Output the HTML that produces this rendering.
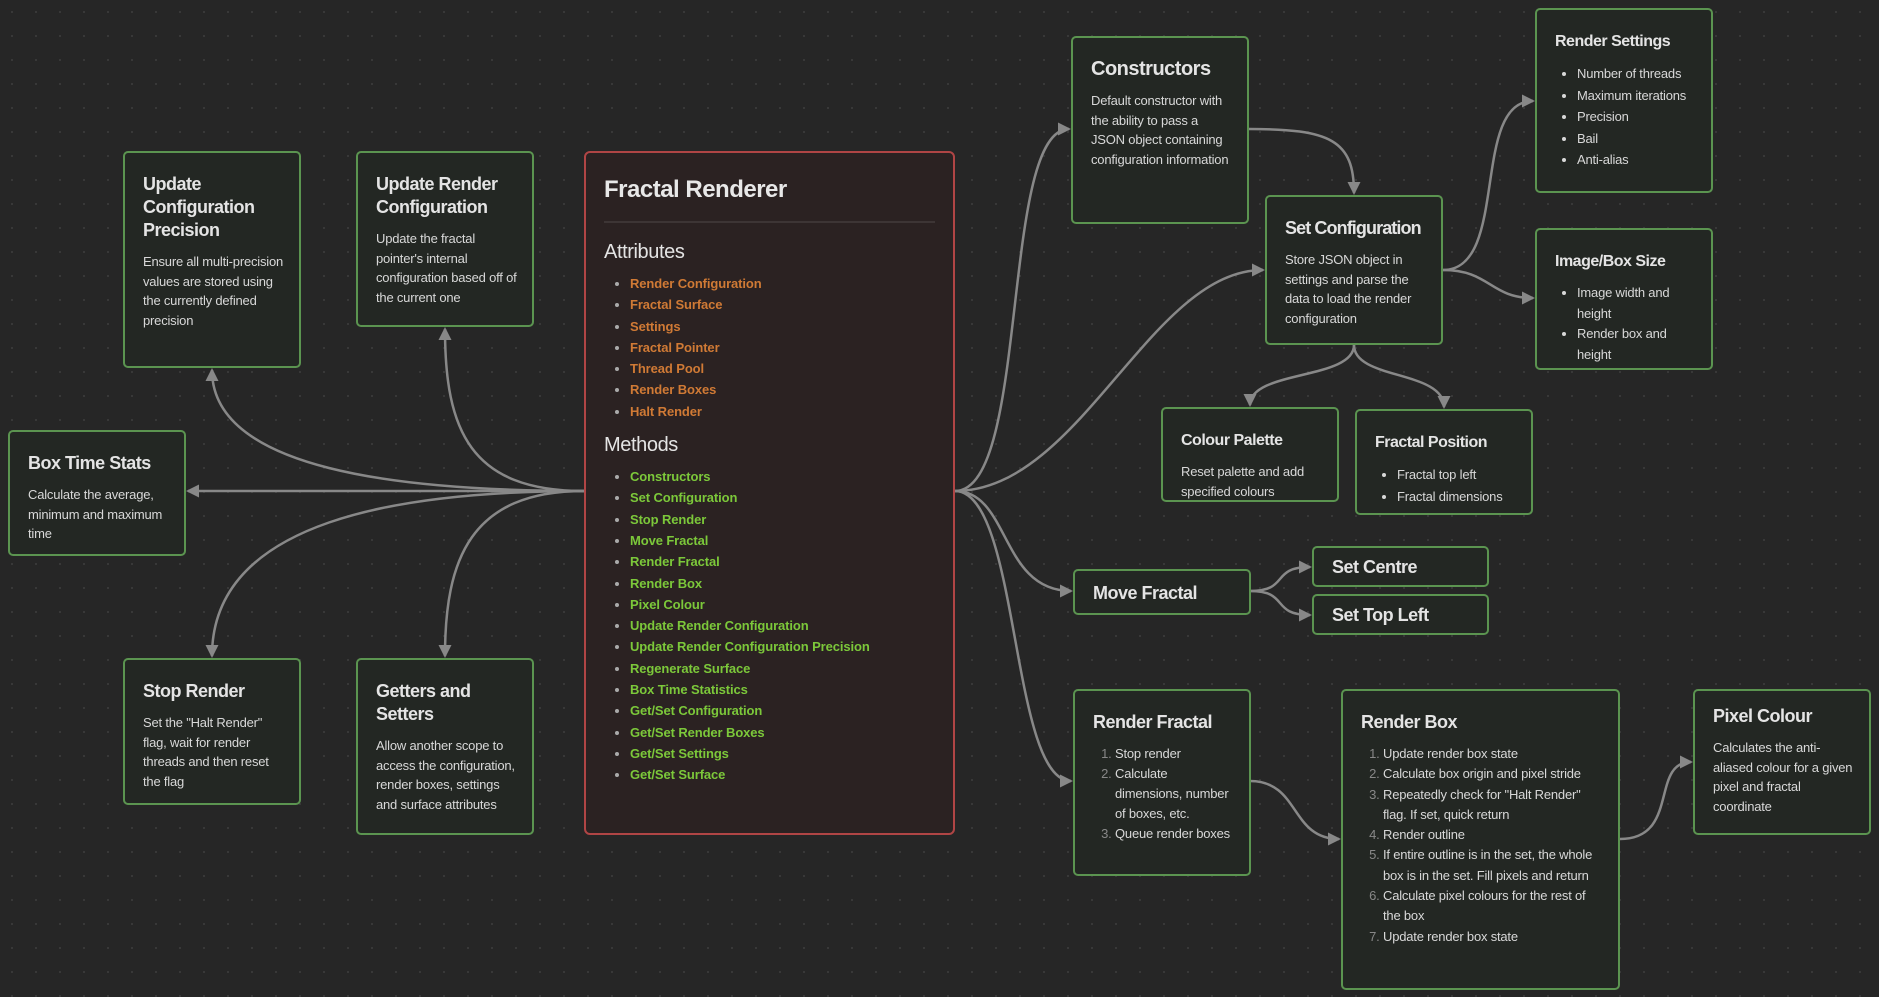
<!DOCTYPE html>
<html><head><meta charset="utf-8">
<style>
*{margin:0;padding:0;box-sizing:border-box}
body{width:1879px;height:997px;overflow:hidden;background:#262626;
background-image:radial-gradient(#3a3a3a 1px,transparent 1.2px);background-size:24px 24px;
font-family:"Liberation Sans","DejaVu Sans",sans-serif;color:#dcdcdc;position:relative}
.n{position:absolute;background:#232723;border:2px solid #5b9450;border-radius:5px;padding:20px 14px 0 18px}
.n h3{font-size:18px;font-weight:bold;color:#e4e4e4;line-height:23px;margin-bottom:10px;letter-spacing:-0.5px}
.n p{font-size:13px;line-height:19.5px;color:#d8d8d8;letter-spacing:-0.2px}
.n ul,.n ol{font-size:13px;line-height:21.5px;color:#d8d8d8;padding-left:22px;letter-spacing:-0.2px}
.n ol li::marker{color:#888}
.m{position:absolute;left:584px;top:151px;width:371px;height:684px;background:#2b2222;border:2px solid #b04545;border-radius:6px;padding:18px 18px}
.m h1{font-size:24px;font-weight:bold;color:#e8e8e8;line-height:32px;margin-top:3px;letter-spacing:-0.5px}
.m hr{border:none;border-top:2px solid #3d3535;margin:15px 0 16px}
.m h2{font-size:20px;font-weight:normal;color:#e4e4e4;line-height:26px;margin-bottom:8px;letter-spacing:-0.4px}
.m ul{padding-left:26px;font-size:13px;font-weight:bold;line-height:21.3px;color:#aaa;letter-spacing:-0.1px}
.a li span{color:#d07a35}.g li span{color:#7cc83a}
svg{position:absolute;left:0;top:0}
</style></head><body>
<svg width="1879" height="997">
<defs><marker id="ar" markerWidth="13" markerHeight="13" refX="11" refY="6.5" orient="auto" markerUnits="userSpaceOnUse"><path d="M0,0 L13,6.5 L0,13 z" fill="#888"/></marker></defs>
<g fill="none" stroke="#888" stroke-width="2.5" marker-end="url(#ar)">
<path d="M584,491 C400,491 212,470 212,370"/>
<path d="M584,491 C470,491 445,430 445,329"/>
<path d="M584,491 L188,491"/>
<path d="M584,491 C400,491 212,520 212,656"/>
<path d="M584,491 C470,491 445,560 445,656"/>
<path d="M955,491 C1030,491 1000,129 1069,129"/>
<path d="M955,491 C1080,491 1150,270 1263,270"/>
<path d="M955,491 C1010,491 1000,591 1071,591"/>
<path d="M955,491 C1020,491 1010,781 1071,781"/>
<path d="M1249,129 C1330,129 1354,140 1354,193"/>
<path d="M1443,270 C1510,270 1470,101 1533,101"/>
<path d="M1443,270 C1490,270 1490,298 1533,298"/>
<path d="M1354,345 C1354,380 1250,370 1250,405"/>
<path d="M1354,345 C1354,380 1444,370 1444,407"/>
<path d="M1250,591 C1290,591 1270,567 1310,567"/>
<path d="M1250,591 C1290,591 1270,615 1310,615"/>
<path d="M1250,781 C1300,781 1290,839 1339,839"/>
<path d="M1620,839 C1680,839 1650,762 1691,762"/>
</g></svg>

<div class="m">
<h1>Fractal Renderer</h1><hr>
<h2>Attributes</h2>
<ul class="a"><li><span>Render Configuration</span></li><li><span>Fractal Surface</span></li><li><span>Settings</span></li><li><span>Fractal Pointer</span></li><li><span>Thread Pool</span></li><li><span>Render Boxes</span></li><li><span>Halt Render</span></li></ul>
<h2 style="margin-top:10px">Methods</h2>
<ul class="g"><li><span>Constructors</span></li><li><span>Set Configuration</span></li><li><span>Stop Render</span></li><li><span>Move Fractal</span></li><li><span>Render Fractal</span></li><li><span>Render Box</span></li><li><span>Pixel Colour</span></li><li><span>Update Render Configuration</span></li><li><span>Update Render Configuration Precision</span></li><li><span>Regenerate Surface</span></li><li><span>Box Time Statistics</span></li><li><span>Get/Set Configuration</span></li><li><span>Get/Set Render Boxes</span></li><li><span>Get/Set Settings</span></li><li><span>Get/Set Surface</span></li></ul>
</div>

<div class="n" style="left:123px;top:151px;width:178px;height:217px"><h3>Update Configuration Precision</h3><p>Ensure all multi-precision values are stored using the currently defined precision</p></div>
<div class="n" style="left:356px;top:151px;width:178px;height:176px"><h3>Update Render Configuration</h3><p>Update the fractal pointer's internal configuration based off of the current one</p></div>
<div class="n" style="left:8px;top:430px;width:178px;height:126px"><h3>Box Time Stats</h3><p>Calculate the average, minimum and maximum time</p></div>
<div class="n" style="left:123px;top:658px;width:178px;height:147px"><h3>Stop Render</h3><p>Set the "Halt Render" flag, wait for render threads and then reset the flag</p></div>
<div class="n" style="left:356px;top:658px;width:178px;height:177px"><h3>Getters and Setters</h3><p>Allow another scope to access the configuration, render boxes, settings and surface attributes</p></div>

<div class="n" style="left:1071px;top:36px;width:178px;height:188px"><h3 style="font-size:20px">Constructors</h3><p>Default constructor with the ability to pass a JSON object containing configuration information</p></div>
<div class="n" style="left:1265px;top:195px;width:178px;height:150px"><h3 style="white-space:nowrap;letter-spacing:-0.9px">Set Configuration</h3><p>Store JSON object in settings and parse the data to load the render configuration</p></div>
<div class="n" style="left:1535px;top:8px;width:178px;height:185px"><h3 style="font-size:16px">Render Settings</h3><ul><li>Number of threads</li><li>Maximum iterations</li><li>Precision</li><li>Bail</li><li>Anti-alias</li></ul></div>
<div class="n" style="left:1535px;top:228px;width:178px;height:142px"><h3 style="font-size:16px">Image/Box Size</h3><ul style="line-height:20.5px"><li>Image width and height</li><li>Render box and height</li></ul></div>
<div class="n" style="left:1161px;top:407px;width:178px;height:95px"><h3 style="font-size:16px">Colour Palette</h3><p>Reset palette and add specified colours</p></div>
<div class="n" style="left:1355px;top:409px;width:178px;height:106px"><h3 style="font-size:16px">Fractal Position</h3><ul><li>Fractal top left</li><li>Fractal dimensions</li></ul></div>
<div class="n" style="left:1073px;top:569px;width:178px;height:46px;padding-top:11px"><h3>Move Fractal</h3></div>
<div class="n" style="left:1312px;top:546px;width:177px;height:41px;padding-top:8px"><h3>Set Centre</h3></div>
<div class="n" style="left:1312px;top:594px;width:177px;height:41px;padding-top:8px"><h3>Set Top Left</h3></div>
<div class="n" style="left:1073px;top:689px;width:178px;height:187px"><h3>Render Fractal</h3><ol style="line-height:20px"><li>Stop render</li><li>Calculate dimensions, number of boxes, etc.</li><li>Queue render boxes</li></ol></div>
<div class="n" style="left:1341px;top:689px;width:279px;height:301px"><h3>Render Box</h3><ol style="line-height:20.3px;padding-right:6px"><li>Update render box state</li><li>Calculate box origin and pixel stride</li><li>Repeatedly check for "Halt Render" flag. If set, quick return</li><li>Render outline</li><li>If entire outline is in the set, the whole box is in the set. Fill pixels and return</li><li>Calculate pixel colours for the rest of the box</li><li>Update render box state</li></ol></div>
<div class="n" style="left:1693px;top:689px;width:178px;height:146px;padding-top:14px"><h3>Pixel Colour</h3><p>Calculates the anti-aliased colour for a given pixel and fractal coordinate</p></div>
</body></html>
